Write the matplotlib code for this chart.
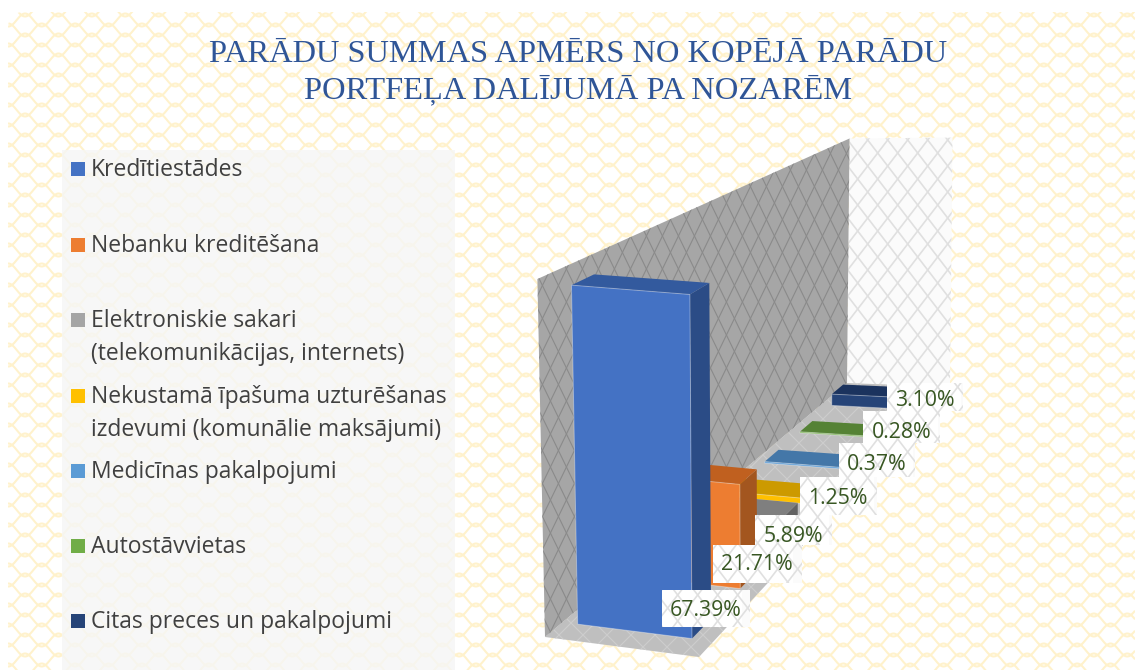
import numpy as np
import matplotlib
matplotlib.use('Agg')
import matplotlib.pyplot as plt
from matplotlib.collections import LineCollection
from matplotlib.patches import Polygon, Rectangle, FancyBboxPatch

title_lines = ['PARĀDU SUMMAS APMĒRS NO KOPĒJĀ PARĀDU', 'PORTFEĻA DALĪJUMĀ PA NOZARĒM']
categories = ['Kredītiestādes',
              'Nebanku kreditēšana',
              'Elektroniskie sakari\n(telekomunikācijas, internets)',
              'Nekustamā īpašuma uzturēšanas\nizdevumi (komunālie maksājumi)',
              'Medicīnas pakalpojumi',
              'Autostāvvietas',
              'Citas preces un pakalpojumi']
values = [67.39, 21.71, 5.89, 1.25, 0.37, 0.28, 3.10]
axis_max = 70

front_cols = ['#4472c4', '#ed7d31', '#a5a5a5', '#ffc000', '#5b9bd5', '#70ad47', '#264478']
side_cols = ['#2b4c86', '#a3561f', '#636363', '#a67c00', '#3b6d99', '#4a7530', '#172a4c']
top_cols = ['#335a9e', '#c0601f', '#7f7f7f', '#cc9a00', '#4477a8', '#558235', '#1b335e']

# where the legend and the labels sit, in pixels
legend_y = [169, 245, 320, 396, 471, 546, 621]
label_centre = [(706, 610), (757, 565), (793, 537), (838, 498), (877, 464), (902, 432), (925, 401)]
label_box = [(662, 590, 750, 627), (713, 545, 802, 583), (755, 515, 832, 545), (800, 477, 877, 515),
             (839, 443, 915, 477), (863, 411, 940, 443), (887, 383, 963, 411)]


# the fake 3d of the chart: c along the wall 0-7, d from wall to front 0-1, v the value
def proj(c, d, v):
    s = (0.28 + 0.977 * c) / 7
    t = s / (0.675 * (1 - s) + s)
    x = 545 + 302 * t + (154 - 51 * t) * d
    y = 637 - 254 * t + (20 - 16 * t) * d
    h = (358 - 113.5 * t) * (1 + 0.02 * d) * v / axis_max
    tilt = -7.6 + 10.1 * t + 6 * d * (1 - t)
    return x + tilt * v / axis_max, y - h


def corner(t, d, v):
    # same thing but straight from the wall ends
    s = (t - 0.28 / 7) * 7 / 0.977
    return proj(s, d, v)


def lattice(ax, clip, dx, dy, col, lw=0.8):
    # diamond mesh clipped to a patch
    segs = []
    for x0 in np.arange(-700, 1400, dx):
        segs.append([(x0, 0), (x0 + dx * 670 / dy, 670)])
        segs.append([(x0 + dx * 670 / dy, 0), (x0, 670)])
    lc = LineCollection(segs, colors=col, linewidths=lw, zorder=clip.get_zorder() + 0.1)
    ax.add_collection(lc)
    lc.set_clip_path(clip)


fig = plt.figure(figsize=(11.35, 6.7), dpi=100)
ax = fig.add_axes([0, 0, 1, 1])
ax.set_xlim(0, 1135)
ax.set_ylim(670, 0)
ax.axis('off')

# wavy yellow background
bg = FancyBboxPatch((8, 12), 1200, 700, boxstyle='round,pad=0,rounding_size=16', fc='white', ec='none', zorder=1)
ax.add_patch(bg)
xs = np.arange(0, 1136, 1.0)
waves = []
for row, y0 in enumerate(np.arange(0, 690, 10.0)):
    phase = row * np.pi
    waves.append(np.column_stack([xs, y0 + 6.5 * np.sin(xs * 2 * np.pi / 33.4 + phase)]))
wl = LineCollection(waves, colors='#fff2cc', linewidths=1.5, zorder=1.1)
ax.add_collection(wl)
wl.set_clip_path(bg)

# legend panel
ax.add_patch(Rectangle((62, 150), 393, 520, fc='#f6f6f6', ec='none', alpha=0.8, zorder=2))

# walls and floor
a, b = corner(0, 0, 0), corner(1, 0, 0)
side = Polygon([corner(1, 0, 70), corner(1, 1, 70), corner(1, 1, 0), b], fc='#fbfbfb', ec='none', zorder=3)
ax.add_patch(side)
lattice(ax, side, 20, 26, '#e0e0e0', 1.2)
floor = Polygon([a, corner(0, 1, 0), corner(1, 1, 0), b], fc='#bfbfbf', ec='none', zorder=3.2)
ax.add_patch(floor)
lattice(ax, floor, 24, 24, '#cdcdcd', 0.8)
wall = Polygon([a, corner(0, 0, 70), corner(1, 0, 70), b], fc='#a6a6a6', ec='none', zorder=3.4)
ax.add_patch(wall)
lattice(ax, wall, 16, 33, '#8a8a8a', 0.8)

# bars, far one first
z = 4
for i in range(len(values) - 1, -1, -1):
    v = values[i]
    c0, c1 = i, i + 0.38
    d0, d1 = 0.10, 0.857
    top = [proj(c0, d0, v), proj(c0, d1, v), proj(c1, d1, v), proj(c1, d0, v)]
    front = [proj(c0, d0, 0), proj(c0, d1, 0), proj(c0, d1, v), proj(c0, d0, v)]
    right = [proj(c0, d1, 0), proj(c1, d1, 0), proj(c1, d1, v), proj(c0, d1, v)]
    edge = matplotlib.colors.to_rgba('white', 0.35)
    ax.add_patch(Polygon(right, fc=side_cols[i], ec='none', zorder=z))
    ax.add_patch(Polygon(top, fc=top_cols[i], ec='none', zorder=z))
    ax.add_patch(Polygon(front, fc=front_cols[i], ec=edge, lw=0.7, zorder=z + 0.1))
    z += 0.2

# data labels
for i in range(len(values) - 1, -1, -1):
    x0, y0, x1, y1 = label_box[i]
    cx, cy = label_centre[i]
    box = Rectangle((x0, y0), x1 - x0, y1 - y0, fc='#fbfbfb', ec='none', zorder=6 + i * -0.1)
    ax.add_patch(box)
    lattice(ax, box, 20, 26, '#e0e0e0', 1.2)
    ax.add_patch(Rectangle((x0, y0), cx + 36 - x0, y1 - y0, fc='white', ec='none', zorder=6.05 + i * -0.1))
    ax.text(cx, cy, '%.2f%%' % values[i], color='#385723', fontsize=15.3, family='Open Sans',
            ha='center', va='center', zorder=7)

# legend
for i, name in enumerate(categories):
    ax.add_patch(Rectangle((71, legend_y[i] - 7), 14, 14, fc=front_cols[i], ec='none', zorder=3))
    ax.text(91, legend_y[i] - 11, name, color='#404040', fontsize=16.5, family='Open Sans',
            ha='left', va='top', linespacing=1.5, zorder=3)

# title
ax.text(578, 54, title_lines[0], color='#2f5597', fontsize=23.4, family='Liberation Serif',
        ha='center', va='center', zorder=8)
ax.text(578, 90, title_lines[1], color='#2f5597', fontsize=23.4, family='Liberation Serif',
        ha='center', va='center', zorder=8)

fig.savefig('out.png', dpi=100)
